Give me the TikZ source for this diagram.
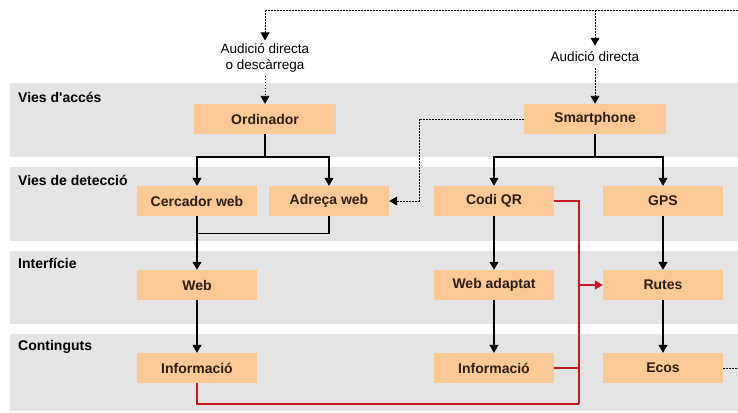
\documentclass[tikz,border=0pt]{standalone}
\usepackage{fontspec}
\setmainfont{Liberation Sans}
\usetikzlibrary{arrows.meta}
\definecolor{colbanda}{RGB}{228,228,228}
\definecolor{colcaixa}{RGB}{252,201,150}
\definecolor{colvermell}{RGB}{200,25,35}
\definecolor{coltext}{RGB}{45,30,20}

\begin{document}
\begin{tikzpicture}[x=1pt, y=-1pt,
	caixa/.style={fill=colcaixa, minimum width=120pt, minimum height=30pt, inner sep=0pt, text=coltext, font=\fontsize{14}{16}\selectfont\bfseries},
	caixagran/.style={caixa, minimum width=142pt},
	titol/.style={anchor=west, inner sep=0pt, font=\fontsize{14}{16}\selectfont\bfseries},
	etiqueta/.style={align=center, inner sep=3pt, font=\fontsize{13.5}{16}\selectfont},
	fletxa/.style={-{Triangle[width=9pt, length=8pt]}},
	linia/.style={line width=1.1pt},
	puntejat/.style={line width=0.9pt, dash pattern=on 1.6pt off 1.4pt},
	vermella/.style={line width=1.1pt, colvermell}]
	\useasboundingbox (0,0) rectangle (738,412);
	
	\fill[colbanda] (10,83)  rectangle (738,157);
	\fill[colbanda] (10,167) rectangle (738,241);
	\fill[colbanda] (10,251) rectangle (738,324);
	\fill[colbanda] (10,334) rectangle (738,411);
	
	\node[titol] (tAcces) at (18,97)  {Vies d\textquotesingle accés};
	\node[titol] (tDetec) at (18,180) {Vies de detecció};
	\node[titol] (tInter) at (18,263) {Interfície};
	\node[titol] (tCont)  at (18,347) {Continguts};
	
	\node[caixagran] (ord)   at (265,119) {Ordinador};
	\node[caixagran] (smart) at (595,119) {Smartphone};
	\node[caixa] (cerc)  at (197,201) {Cercador web};
	\node[caixa] (adr)   at (329,201) {Adreça web};
	\node[caixa] (qr)    at (494,201) {Codi QR};
	\node[caixa] (gps)   at (663,201) {GPS};
	\node[caixa] (web)   at (197,285) {Web};
	\node[caixa] (webad) at (494,285) {Web adaptat};
	\node[caixa] (rutes) at (663,285) {Rutes};
	\node[caixa] (infoA) at (197,368) {Informació};
	\node[caixa] (infoB) at (494,368) {Informació};
	\node[caixa] (ecos)  at (663,368) {Ecos};
	
	\node[etiqueta] (audA) at (265,58) {Audició directa\\o descàrrega};
	\node[etiqueta, inner sep=6pt] (audB) at (595,57) {Audició directa};
	
	\coordinate (dalt) at (738,10);
	\coordinate (daltA) at (265,10);
	\coordinate (daltB) at (595,10);
	\coordinate (bifA) at (265,157);
	\coordinate (bifB) at (595,157);
	\coordinate (gir) at (419,201);
	\coordinate (rVert) at (579,404);
	\coordinate (sortida) at (738,368);
	
	\draw[puntejat] (dalt) -- (daltA);
	\draw[puntejat, fletxa] (daltA) -- (audA.north);
	\draw[puntejat, fletxa] (audA.south) -- (ord.north);
	\draw[puntejat, fletxa] (daltB) -- (audB.north);
	\draw[puntejat, fletxa] (audB.south) -- (smart.north);
	\draw[puntejat, fletxa] (smart.west) -| (gir) -- (adr.east);
	\draw[puntejat] (ecos.east) -- (sortida);
	
	\draw[linia] (ord.south) -- (bifA);
	\draw[linia, fletxa] (bifA) -| (cerc.north);
	\draw[linia, fletxa] (bifA) -| (adr.north);
	\draw[linia] (smart.south) -- (bifB);
	\draw[linia, fletxa] (bifB) -| (qr.north);
	\draw[linia, fletxa] (bifB) -| (gps.north);
	
	\draw[linia] (adr.south) -- ++(0,17) -| (cerc.south);
	\draw[linia, fletxa] (cerc) -- (web);
	\draw[linia, fletxa] (qr) -- (webad);
	\draw[linia, fletxa] (gps) -- (rutes);
	\draw[linia, fletxa] (web) -- (infoA);
	\draw[linia, fletxa] (webad) -- (infoB);
	\draw[linia, fletxa] (rutes) -- (ecos);
	
	\draw[vermella] (qr.east) -| (rVert);
	\draw[vermella] (infoA.south) |- (rVert);
	\draw[vermella] (infoB.east) -- (infoB.east -| rVert);
	\draw[vermella, fletxa] (rutes.west -| rVert) -- (rutes.west);
\end{tikzpicture}
\end{document}
